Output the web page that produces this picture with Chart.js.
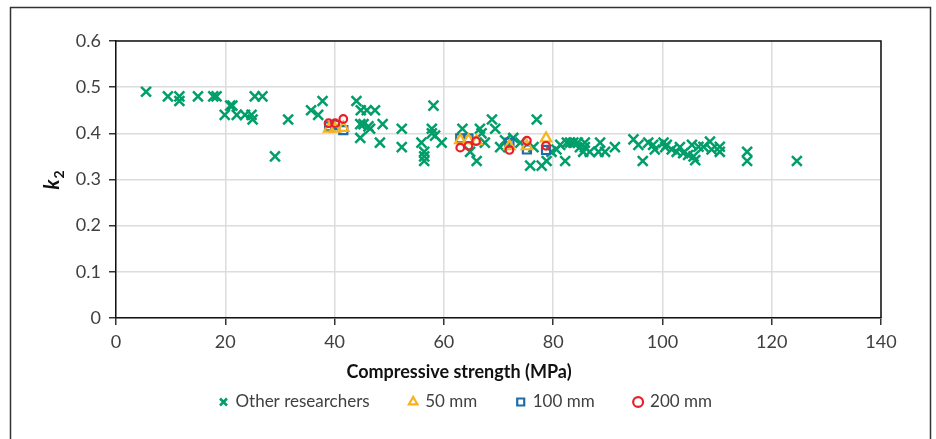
<!DOCTYPE html>
<html>
<head>
<meta charset="utf-8">
<script src="https://cdn.jsdelivr.net/npm/chart.js@4.4.1/dist/chart.umd.min.js"></script>
<style>
  html, body { margin: 0; padding: 0; background: #fff; }
</style>
</head>
<body>
<canvas id="myChart" width="936" height="439"></canvas>
<script>
// tick labels
const xTickLabels = ['0', '20', '40', '60', '80', '100', '120', '140'];
const yTickLabels = ['0', '0.1', '0.2', '0.3', '0.4', '0.5', '0.6'];

// series names
const seriesNames = ['Other researchers', '50 mm', '100 mm', '200 mm'];

// other researchers
const otherX = [5.5, 9.5, 11.6, 11.6, 15, 17.8, 18.4, 20.9, 21.3, 19.9, 22.1, 23.6, 24.8, 25.0, 25.4, 26.8,
  29.1, 31.5, 35.7, 37.0, 37.8, 44.0, 44.8, 45.9, 47.4, 44.7, 45.3, 46.2, 46.5, 44.7, 48.3, 48.8,
  52.3, 52.3, 55.9, 56.4, 56.4, 56.4, 58.1, 57.8, 57.8, 58.4, 59.6, 63.4, 64.8, 66.0, 66.6, 66.9,
  67.5, 68.8, 69.4, 70.3, 71.2, 72.7, 74.0, 76.4, 77.0, 75.8, 77.9, 78.8, 79.7, 80.6, 81.3, 82.2,
  82.5, 83.1, 83.7, 84.5, 84.9, 85.8, 85.8, 85.5, 86.7, 88.6, 88.3, 89.5, 91.3, 94.7, 95.6, 96.4,
  97.4, 98.3, 98.6, 100.2, 100.8, 100.5, 101.7, 102.6, 103.2, 103.8, 104.7, 105.4, 105.7, 106.0,
  106.6, 107.5, 108.7, 109.0, 110.5, 110.5, 115.5, 115.5, 124.6];
const otherY = [0.49, 0.48, 0.48, 0.47, 0.48, 0.48, 0.48, 0.46, 0.46, 0.44, 0.44, 0.44, 0.44, 0.43, 0.48, 0.48,
  0.35, 0.43, 0.45, 0.44, 0.47, 0.47, 0.45, 0.45, 0.45, 0.42, 0.42, 0.415, 0.41, 0.39, 0.38, 0.42,
  0.41, 0.37, 0.38, 0.36, 0.35, 0.34, 0.46, 0.41, 0.40, 0.395, 0.38, 0.41, 0.36, 0.34, 0.41, 0.40,
  0.38, 0.43, 0.41, 0.37, 0.385, 0.39, 0.38, 0.37, 0.43, 0.33, 0.33, 0.34, 0.36, 0.365, 0.375, 0.34,
  0.38, 0.38, 0.38, 0.38, 0.37, 0.37, 0.38, 0.36, 0.36, 0.38, 0.36, 0.36, 0.37, 0.387, 0.375, 0.34,
  0.38, 0.375, 0.365, 0.38, 0.375, 0.37, 0.365, 0.36, 0.37, 0.357, 0.353, 0.375, 0.35, 0.342,
  0.371, 0.371, 0.382, 0.365, 0.371, 0.36, 0.36, 0.34, 0.34];

// 50 mm
const mm50X = [39.0, 40.1, 41.6, 63.0, 64.5, 66.0, 72.0, 75.2, 78.7];
const mm50Y = [0.41, 0.41, 0.412, 0.385, 0.385, 0.383, 0.372, 0.372, 0.389];

// 100 mm
const mm100X = [39.0, 40.1, 41.6, 63.0, 64.5, 72.0, 75.2, 78.7];
const mm100Y = [0.415, 0.418, 0.407, 0.389, 0.389, 0.380, 0.365, 0.364];

// 200 mm
const mm200X = [38.9, 40.1, 41.6, 63.0, 64.5, 65.9, 72.0, 75.2, 78.7];
const mm200Y = [0.422, 0.422, 0.431, 0.369, 0.373, 0.383, 0.364, 0.384, 0.373];

function pts(xs, ys) {
  return xs.map((x, i) => ({ x: x, y: ys[i] }));
}

Chart.defaults.font.family = 'Lato, "Open Sans", sans-serif';
Chart.defaults.color = '#404040';

const frame = {
  id: 'frame',
  beforeDraw(chart) {
    const c = chart.ctx;
    c.save();
    c.fillStyle = '#fff';
    c.fillRect(0, 0, chart.width, chart.height);
    c.strokeStyle = '#333';
    c.lineWidth = 1.5;
    c.strokeRect(10.5, 7.5, 920, 460);
    c.restore();
  },
  beforeDatasetsDraw(chart) {
    const a = chart.chartArea, c = chart.ctx;
    c.save();
    c.strokeStyle = '#111';
    c.lineWidth = 1.5;
    c.beginPath();
    c.moveTo(a.left, a.top);
    c.lineTo(a.right, a.top);
    c.lineTo(a.right, a.bottom);
    c.stroke();
    c.restore();
  },
  afterDraw(chart) {
    const c = chart.ctx;
    c.save();
    // x title
    c.fillStyle = '#111';
    c.font = 'bold 18px Lato, "Open Sans", sans-serif';
    c.textAlign = 'center';
    c.textBaseline = 'middle';
    c.fillText('Compressive strength (MPa)', 459, 372);
    // y title k2
    c.translate(55, 180);
    c.rotate(-Math.PI / 2);
    c.textAlign = 'left';
    c.textBaseline = 'alphabetic';
    c.font = 'italic bold 20px Lato, "Open Sans", sans-serif';
    const kw = c.measureText('k').width;
    c.font = 'bold 14px Lato, "Open Sans", sans-serif';
    const sw = c.measureText('2').width;
    const x0 = -(kw + sw + 1) / 2;
    c.font = 'italic bold 20px Lato, "Open Sans", sans-serif';
    c.fillText('k', x0, 4);
    c.font = 'bold 14px Lato, "Open Sans", sans-serif';
    c.fillText('2', x0 + kw + 1, 9);
    c.restore();
  }
};

const ctx = document.getElementById('myChart');

new Chart(ctx, {
  type: 'scatter',
  data: {
    datasets: [{
      label: seriesNames[0],
      data: pts(otherX, otherY),
      pointStyle: 'crossRot',
      pointRadius: 7,
      pointHoverRadius: 7,
      borderColor: '#009E6A',
      backgroundColor: 'transparent',
      borderWidth: 2.5,
      order: 4
    }, {
      label: seriesNames[1],
      data: pts(mm50X, mm50Y),
      pointStyle: 'triangle',
      pointRadius: 6,
      borderColor: '#F7B21E',
      backgroundColor: 'transparent',
      borderWidth: 2.2,
      order: 2
    }, {
      label: seriesNames[2],
      data: pts(mm100X, mm100Y),
      pointStyle: 'rect',
      pointRadius: 5.7,
      borderColor: '#1F6DA6',
      backgroundColor: 'transparent',
      borderWidth: 2.2,
      order: 3
    }, {
      label: seriesNames[3],
      data: pts(mm200X, mm200Y),
      pointStyle: 'circle',
      pointRadius: 3.8,
      borderColor: '#E8202A',
      backgroundColor: 'transparent',
      borderWidth: 2.2,
      order: 1
    }]
  },
  options: {
    responsive: false,
    animation: false,
    devicePixelRatio: 1,
    layout: { padding: { left: 51, right: 55, top: 41, bottom: 18.5 } },
    plugins: {
      tooltip: { enabled: false },
      legend: {
        position: 'bottom',
        labels: {
          usePointStyle: true,
          boxWidth: 7,
          boxHeight: 7,
          padding: 40,
          color: '#404040',
          font: { size: 17 },
          sort: (a, b) => a.datasetIndex - b.datasetIndex
        }
      }
    },
    scales: {
      x: {
        type: 'linear',
        min: 0,
        max: 140,
        afterFit(scale) { scale.height = 35.5; },
        ticks: {
          stepSize: 20,
          padding: 6,
          color: '#404040',
          font: { size: 18 },
          callback: (v, i) => xTickLabels[i]
        },
        grid: { color: '#dcdcdc', lineWidth: 1.5, tickColor: '#333', tickLength: 7, tickWidth: 1.5 },
        border: { color: '#111', width: 1.5 }
      },
      y: {
        type: 'linear',
        min: 0,
        max: 0.6,
        afterFit(scale) { scale.width = 65; },
        ticks: {
          stepSize: 0.1,
          padding: 8,
          color: '#404040',
          font: { size: 18 },
          callback: (v, i) => yTickLabels[i]
        },
        grid: { color: '#dcdcdc', lineWidth: 1.5, tickColor: '#333', tickLength: 7, tickWidth: 1.5 },
        border: { color: '#111', width: 1.5 }
      }
    }
  },
  plugins: [frame]
});
</script>
</body>
</html>
